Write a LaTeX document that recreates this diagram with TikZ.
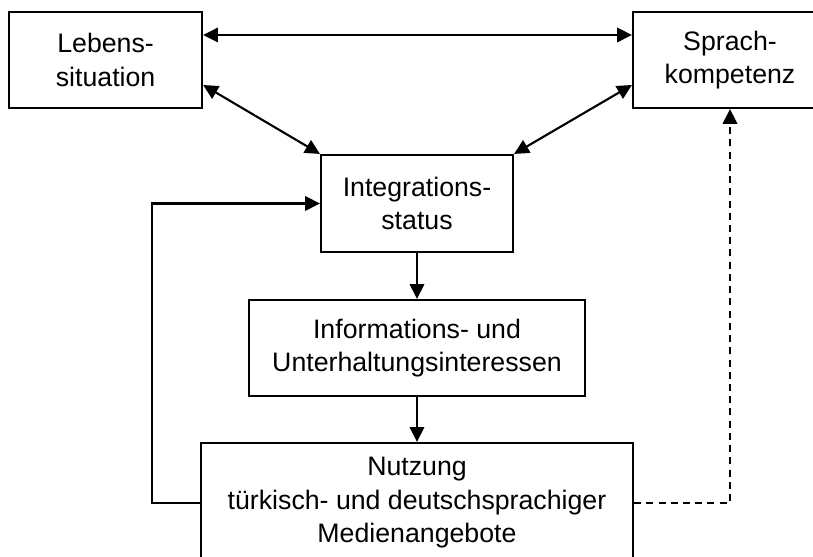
\documentclass[tikz,border=0pt]{standalone}
\usepackage{fontspec}
\setmainfont{Liberation Sans}
\usepackage{tikz}
\usetikzlibrary{arrows.meta}
\tikzstyle{box} = [rectangle, draw = black, line width = 1.5pt, inner sep = 0pt, align = center, font = \fontsize{19}{23.8}\selectfont]
\tikzstyle{link} = [line width = 1.5pt, -{Triangle[length = 0.37cm, width = 0.36cm]}]
\tikzstyle{both} = [line width = 1.5pt, {Triangle[length = 0.37cm, width = 0.36cm]}-{Triangle[length = 0.37cm, width = 0.36cm]}]

\begin{document}
\begin{tikzpicture}
    \useasboundingbox (0, 0) rectangle (20.325, 13.925);
    \node (leben) at (2.64, 12.425) [box, minimum width = 4.825cm, minimum height = 2.4cm] {Lebens-\\situation};
    \node (sprach) at (18.25, 12.425) [box, minimum width = 4.85cm, minimum height = 2.4cm] {Sprach-\\kompetenz};
    \node (integr) at (10.425, 8.8375) [box, minimum width = 4.8cm, minimum height = 2.425cm] {Integrations-\\status};
    \node (info) at (10.425, 5.225) [box, minimum width = 8.4cm, minimum height = 2.4cm] {Informations- und\\Unterhaltungsinteressen};
    \node (nutzung) at (10.425, 1.35) [box, minimum width = 10.8cm, minimum height = 3cm] {Nutzung\\türkisch- und deutschsprachiger\\Medienangebote};
    \draw [both] ([yshift = 0.625cm]leben.east) -- ([yshift = 0.625cm]sprach.west);
    \draw [both] ([yshift = -0.625cm]leben.east) -- (integr.north west);
    \draw [both] ([yshift = -0.625cm]sprach.west) -- (integr.north east);
    \draw [link] (integr) -- (info);
    \draw [link] (info) -- (nutzung);
    \draw [link] (nutzung.west) -- ++(-1.2, 0) |- (integr.west);
    \draw [link, dash pattern = on 5pt off 3.7pt] (nutzung.east) -| (sprach.south);
\end{tikzpicture}
\end{document}
